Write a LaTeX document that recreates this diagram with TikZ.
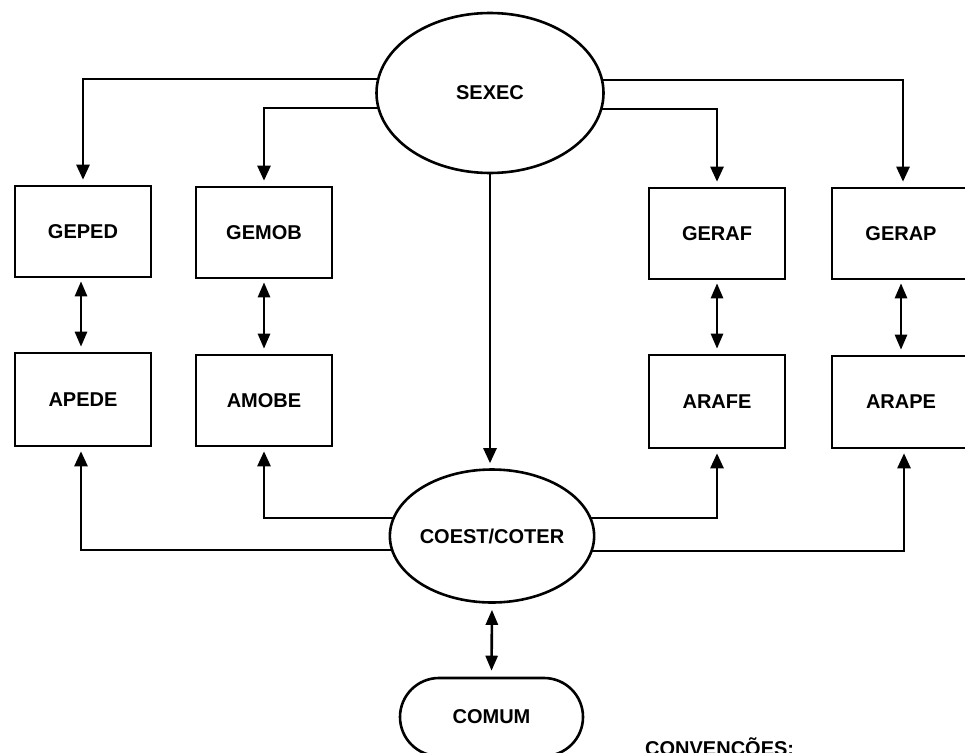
\documentclass[tikz,border=0pt]{standalone}
\usepackage{fontspec}
\setmainfont{Liberation Sans}
\usetikzlibrary{shapes.geometric,shapes.misc,arrows.meta,backgrounds}
\begin{document}
\begin{tikzpicture}[x=1pt,y=-1pt,
  font=\bfseries\fontsize{20}{24}\selectfont,
  thick line/.style={line width=2.6pt},
  unitbox/.style={draw,thick line,fill=white,rectangle,minimum width=136pt,minimum height=91pt,inner sep=0pt},
  hub/.style={draw,thick line,fill=white,ellipse,inner sep=0pt},
  arr/.style={thick line,-{Triangle[width=13pt,length=15pt]}},
  biarr/.style={thick line,{Triangle[width=12pt,length=15pt]}-{Triangle[width=12pt,length=15pt]}},
]
\useasboundingbox (0,0) rectangle (965,752);
\clip (0,0) rectangle (965,752);

% central units
\node[hub,minimum width=227pt,minimum height=160pt] (sexec) at (490,93) {SEXEC};
\node[hub,minimum width=190pt,minimum height=133pt] (coest) at (492,536) {COEST/COTER};
\node[draw,thick line,fill=white,rounded rectangle,minimum width=183pt,minimum height=78pt,inner sep=0pt] (comum) at (491.5,717) {COMUM};

% management and area boxes
\node[unitbox] (geped) at (83,231.5) {GEPED};
\node[unitbox] (gemob) at (264,232.5) {GEMOB};
\node[unitbox] (geraf) at (717,233.5) {GERAF};
\node[unitbox,minimum width=138pt] (gerap) at (901,233.5) {GERAP};
\node[unitbox,minimum height=93pt] (apede) at (83,399.5) {APEDE};
\node[unitbox] (amobe) at (264,400.5) {AMOBE};
\node[unitbox,minimum height=93pt] (arafe) at (717,401.5) {ARAFE};
\node[unitbox,minimum width=138pt,minimum height=92pt] (arape) at (901,402) {ARAPE};

\node[anchor=base west,inner sep=0pt] (conv) at (645,755) {CONVENÇÕES:};

\begin{scope}[on background layer]
  % SEXEC to the management boxes
  \draw[arr,shorten >=5pt] ([yshift=14pt]sexec.center) -| (geped.north);
  \draw[arr,shorten >=5pt] ([yshift=-15pt]sexec.center) -| (gemob.north);
  \draw[arr,shorten >=5pt] ([yshift=-16pt]sexec.center) -| (geraf.north);
  \draw[arr,shorten >=5pt] ([yshift=13pt]sexec.center) -| ([xshift=2pt]gerap.north);
  \draw[arr,shorten >=5pt] (sexec.south) -- (coest.north -| sexec.south);
  % COEST/COTER to the area boxes
  \draw[arr,shorten >=4pt] ([yshift=18pt]coest.center) -| (amobe.south);
  \draw[arr,shorten >=4pt] ([yshift=-14pt]coest.center) -| ([xshift=-2pt]apede.south);
  \draw[arr,shorten >=4pt] ([yshift=18pt]coest.center) -| (arafe.south);
  \draw[arr,shorten >=4pt] ([yshift=-15pt]coest.center) -| ([xshift=3pt]arape.south);
\end{scope}

% two-way links
\draw[biarr,shorten <=3pt,shorten >=5pt] ([xshift=-2pt]geped.south) -- ([xshift=-2pt]apede.north);
\draw[biarr,shorten <=3pt,shorten >=5pt] (gemob.south) -- (amobe.north);
\draw[biarr,shorten <=3pt,shorten >=5pt] (geraf.south) -- (arafe.north);
\draw[biarr,shorten <=3pt,shorten >=5pt] (gerap.south) -- (arape.north);
\draw[biarr,shorten <=6pt,shorten >=6pt] (coest.south) -- (comum.north);
\end{tikzpicture}
\end{document}
